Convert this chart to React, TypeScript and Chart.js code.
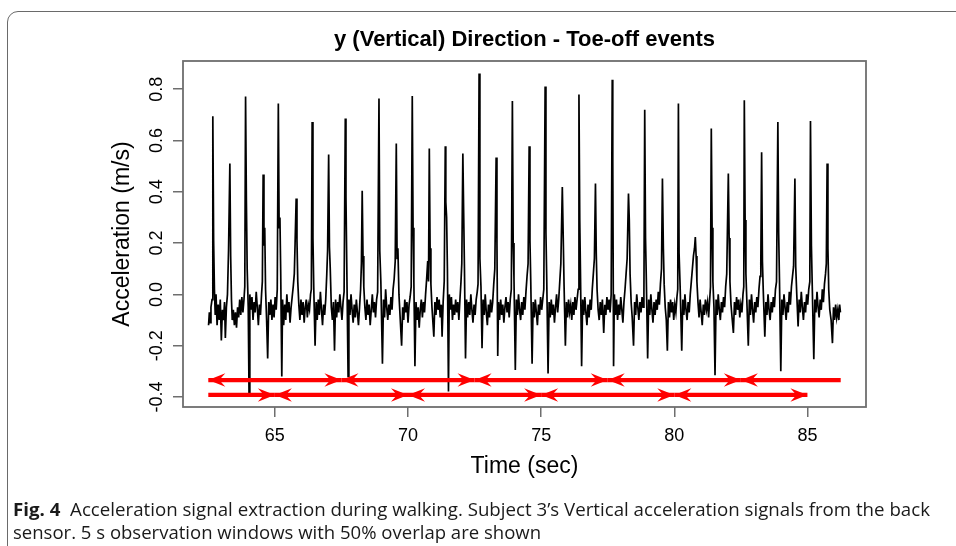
import React, { useEffect, useRef } from "react";
import { Chart, registerables } from "chart.js";

Chart.register(...registerables);

// ---------- text ----------
const TITLE = "y (Vertical) Direction - Toe-off events";
const X_TITLE = "Time (sec)";
const Y_TITLE = "Acceleration (m/s)";

// ---------- axes ----------
const xTickValues = [65, 70, 75, 80, 85];
const yTickValues = [-0.4, -0.2, 0.0, 0.2, 0.4, 0.6, 0.8];
const xLimits = [61.55, 87.2];
const yLimits = [-0.439, 0.91];

// ---------- signal, split by 5 s window ----------
const windowA: [number, number][] = [
  [62.51,-0.12],[62.54,-0.07],[62.57,-0.11],[62.60,-0.05],[62.64,-0.02],
  [62.67,0.695],[62.70,0.21],[62.73,0.02],[62.76,-0.08],[62.79,0.0],[62.83,-0.12],[62.87,-0.04],[62.91,-0.1],[62.95,-0.02],[62.99,-0.18],[63.03,-0.06],[63.07,-0.1],[63.11,-0.03],[63.14,-0.17],[63.18,-0.05],[63.22,0.0],[63.26,0.17],
  [63.31,0.51],[63.34,0.15],[63.37,-0.02],[63.40,-0.1],[63.44,-0.06],[63.48,-0.12],[63.52,-0.07],[63.56,-0.13],[63.60,-0.05],[63.64,-0.09],[63.68,-0.02],[63.72,-0.08],[63.76,-0.01],[63.80,-0.07],[63.84,-0.02],[63.87,0.03],
  [63.90,0.772],[63.93,0.37],[63.96,0.1],[64.00,-0.05],[64.03,-0.386],[64.06,0.0],[64.10,-0.06],[64.14,-0.01],[64.18,-0.1],[64.22,-0.03],[64.26,-0.07],[64.30,0.01],[64.34,-0.05],[64.38,-0.12],[64.42,-0.04],[64.46,-0.08],[64.50,0.0],[64.53,0.05],
  [64.56,0.467],[64.59,0.19],[64.62,0.26],[64.65,0.02],[64.69,-0.1],[64.73,-0.25],[64.77,-0.03],[64.81,-0.08],[64.85,-0.02],[64.89,-0.1],[64.93,-0.04],[64.97,-0.09],[65.01,-0.01],[65.05,-0.06],[65.09,0.02],
  [65.13,0.744],[65.16,0.26],[65.19,0.3],[65.22,0.08],[65.26,-0.32],[65.29,-0.02],[65.33,-0.12],[65.37,-0.04],[65.41,-0.1],[65.45,0.0],[65.49,-0.07],[65.53,-0.03],[65.57,-0.11],[65.61,-0.05],[65.65,-0.01],[65.69,0.03],[65.73,0.08],[65.76,0.2],
  [65.80,0.374],[65.83,0.21],[65.86,0.05],[65.90,-0.04],[65.94,-0.1],[65.98,-0.02],[66.02,-0.08],[66.06,-0.03],[66.10,-0.11],[66.14,-0.05],[66.18,-0.02],[66.22,-0.09],[66.26,-0.04],[66.30,-0.06],[66.34,0.0],[66.37,0.02],
  [66.40,0.672],[66.43,0.22],[66.46,0.03],[66.51,-0.2],[66.55,-0.03],[66.59,-0.1],[66.63,-0.02],[66.67,-0.08],[66.71,0.01],[66.75,-0.06],[66.79,-0.12],[66.83,-0.04],[66.87,-0.08],[66.91,-0.02],[66.95,0.08],[66.98,0.17],
  [67.02,0.545],[67.05,0.185],[67.08,0.1],[67.12,-0.05],[67.16,-0.1],[67.20,-0.03],[67.24,-0.22],[67.28,-0.02],[67.32,-0.09],[67.36,-0.03],[67.40,-0.07],[67.44,0.0],[67.48,-0.05],[67.52,-0.1],[67.56,-0.03],[67.60,0.01],
];
const windowB: [number, number][] = [
  [67.645,0.686],[67.67,0.38],[67.70,0.12],[67.75,-0.32],[67.78,-0.02],[67.82,-0.08],[67.86,0.0],[67.90,-0.06],[67.94,-0.11],[67.98,-0.04],[68.02,-0.09],[68.06,-0.02],[68.10,-0.07],[68.14,-0.12],[68.18,-0.05],[68.22,0.02],[68.25,0.12],
  [68.28,0.404],[68.31,0.15],[68.34,0.03],[68.38,-0.05],[68.42,-0.1],[68.46,-0.02],[68.50,-0.08],[68.54,-0.04],[68.58,-0.12],[68.62,-0.06],[68.66,0.0],[68.70,-0.07],[68.74,-0.03],[68.78,-0.09],[68.82,-0.02],[68.86,0.01],
  [68.91,0.764],[68.94,0.17],[68.98,0.05],[69.04,-0.27],[69.08,-0.02],[69.12,-0.09],[69.16,0.02],[69.20,-0.05],[69.24,-0.1],[69.28,-0.04],[69.32,-0.08],[69.36,-0.01],[69.40,-0.06],[69.44,0.02],[69.48,0.06],[69.52,0.13],
  [69.56,0.588],[69.59,0.14],[69.62,0.18],[69.66,0.0],[69.70,-0.08],[69.76,-0.2],[69.80,-0.05],[69.84,-0.1],[69.88,-0.02],[69.92,-0.07],[69.96,-0.03],[70.00,-0.11],[70.04,-0.04],[70.08,-0.01],[70.12,0.03],
  [70.16,0.774],[70.19,0.26],[70.22,0.05],[70.26,-0.28],[70.30,-0.03],[70.34,-0.1],[70.38,-0.05],[70.42,-0.13],[70.46,-0.06],[70.50,-0.02],[70.54,-0.09],[70.58,-0.03],[70.62,-0.07],[70.66,0.0],[70.70,0.06],[70.74,0.13],[70.77,0.05],
  [70.80,0.569],[70.83,0.18],[70.86,0.04],[70.90,-0.05],[70.93,-0.1],[70.97,-0.165],[71.01,-0.03],[71.05,-0.08],[71.09,-0.01],[71.13,-0.06],[71.17,-0.02],[71.21,-0.09],[71.25,-0.04],[71.28,-0.165],[71.32,-0.03],[71.36,0.05],
  [71.40,0.578],[71.42,0.36],[71.45,0.3],[71.48,0.1],[71.52,-0.379],[71.55,0.0],[71.59,-0.06],[71.63,-0.01],[71.67,-0.1],[71.71,-0.04],[71.75,-0.08],[71.79,-0.02],[71.83,-0.07],[71.87,-0.03],[71.91,-0.1],[71.95,-0.02],[71.99,0.05],[72.02,0.12],
  [72.06,0.549],[72.09,0.32],[72.12,0.1],[72.16,-0.25],[72.20,-0.02],[72.24,-0.09],[72.28,-0.03],[72.32,-0.08],[72.36,0.0],[72.40,-0.06],[72.44,-0.11],[72.48,-0.04],[72.52,-0.08],[72.56,-0.02],[72.60,0.01],[72.63,0.04],
];
const windowC: [number, number][] = [
  [72.67,0.861],[72.70,0.14],[72.74,0.03],[72.78,-0.21],[72.82,-0.02],[72.86,-0.08],[72.90,0.0],[72.94,-0.07],[72.98,-0.12],[73.02,-0.04],[73.06,-0.09],[73.10,-0.02],[73.14,-0.07],[73.18,-0.03],[73.22,0.04],[73.26,0.1],
  [73.31,0.534],[73.34,0.2],[73.37,-0.24],[73.40,-0.03],[73.44,-0.1],[73.48,-0.02],[73.52,-0.08],[73.56,-0.04],[73.60,-0.11],[73.64,-0.05],[73.68,-0.01],[73.72,-0.07],[73.76,-0.03],[73.80,-0.09],[73.84,-0.02],[73.88,0.02],
  [73.92,0.754],[73.95,0.2],[73.98,0.06],[74.03,-0.295],[74.07,-0.02],[74.11,-0.08],[74.15,0.0],[74.19,-0.06],[74.23,-0.1],[74.27,-0.03],[74.31,-0.08],[74.35,-0.01],[74.39,-0.06],[74.43,0.01],[74.47,0.07],[74.51,0.12],
  [74.55,0.578],[74.58,0.21],[74.61,0.05],[74.66,-0.27],[74.70,-0.03],[74.74,-0.09],[74.78,-0.02],[74.82,-0.07],[74.86,-0.12],[74.90,-0.04],[74.94,-0.08],[74.98,-0.01],[75.02,-0.06],[75.06,-0.02],[75.10,0.02],
  [75.15,0.811],[75.18,0.24],[75.21,0.06],[75.26,-0.308],[75.30,-0.03],[75.34,-0.09],[75.38,-0.02],[75.42,-0.08],[75.46,-0.04],[75.50,-0.11],[75.54,-0.05],[75.58,0.0],[75.62,-0.07],[75.66,-0.02],[75.70,0.05],[75.74,0.12],
  [75.795,0.419],[75.83,0.22],[75.86,0.04],[75.91,-0.2],[75.95,-0.03],[75.99,-0.09],[76.03,-0.02],[76.07,-0.07],[76.11,-0.04],[76.15,-0.1],[76.19,-0.03],[76.23,-0.08],[76.27,-0.01],[76.31,-0.06],[76.35,-0.02],[76.39,0.02],
  [76.42,0.779],[76.45,0.29],[76.48,0.06],[76.52,-0.28],[76.56,-0.02],[76.60,-0.08],[76.64,-0.01],[76.68,-0.07],[76.72,-0.12],[76.76,-0.04],[76.80,-0.09],[76.84,-0.02],[76.88,-0.06],[76.92,0.02],[76.96,0.08],[77.00,0.14],
  [77.04,0.432],[77.07,0.16],[77.10,0.02],[77.14,-0.06],[77.18,-0.1],[77.22,-0.03],[77.26,-0.08],[77.30,-0.02],[77.35,-0.15],[77.39,-0.04],[77.43,-0.08],[77.47,-0.01],[77.51,-0.06],[77.55,-0.02],[77.59,-0.07],[77.63,0.0],
];
const windowD: [number, number][] = [
  [77.67,0.837],[77.69,0.52],[77.72,-0.28],[77.75,0.0],[77.79,-0.08],[77.83,-0.02],[77.87,-0.1],[77.91,-0.04],[77.95,-0.08],[77.99,-0.01],[78.03,-0.06],[78.07,-0.11],[78.11,-0.03],[78.15,0.02],[78.19,0.08],[78.23,0.14],
  [78.28,0.393],[78.31,0.29],[78.34,0.08],[78.38,-0.03],[78.42,-0.09],[78.47,-0.2],[78.51,-0.03],[78.55,-0.08],[78.59,0.0],[78.63,-0.05],[78.67,-0.1],[78.71,-0.03],[78.75,-0.07],[78.79,-0.01],[78.83,-0.05],[78.86,0.01],
  [78.89,0.72],[78.92,0.22],[78.95,0.06],[79.00,-0.25],[79.04,-0.02],[79.08,-0.08],[79.12,0.0],[79.16,-0.06],[79.20,-0.11],[79.24,-0.03],[79.28,-0.08],[79.32,-0.02],[79.36,-0.06],[79.40,0.01],[79.44,-0.04],[79.48,0.04],[79.52,0.1],
  [79.555,0.452],[79.59,0.18],[79.62,0.04],[79.66,-0.05],[79.70,-0.1],[79.74,-0.22],[79.78,-0.03],[79.82,-0.09],[79.86,-0.02],[79.90,-0.07],[79.94,-0.03],[79.98,-0.1],[80.02,-0.04],[80.06,-0.07],[80.10,-0.01],[80.13,0.02],
  [80.155,0.744],[80.18,0.16],[80.22,0.03],[80.28,-0.22],[80.32,-0.02],[80.36,-0.08],[80.40,0.0],[80.44,-0.06],[80.48,-0.1],[80.52,-0.03],[80.56,-0.07],[80.60,0.0],[80.64,0.05],[80.68,0.1],[80.72,0.15],[80.76,0.18],
  [80.79,0.224],[80.82,0.15],[80.85,0.05],[80.89,-0.03],[80.93,-0.09],[80.97,-0.02],[81.01,-0.07],[81.05,-0.12],[81.09,-0.04],[81.13,-0.08],[81.17,-0.02],[81.21,-0.06],[81.25,-0.03],[81.29,-0.09],[81.33,-0.02],[81.36,0.03],
  [81.39,0.647],[81.42,0.26],[81.45,0.05],[81.49,-0.05],[81.53,-0.315],[81.57,-0.02],[81.61,-0.08],[81.65,0.0],[81.69,-0.06],[81.73,-0.1],[81.77,-0.03],[81.81,-0.07],[81.85,-0.01],[81.89,-0.05],[81.93,0.03],[81.97,0.08],
  [82.03,0.471],[82.06,0.22],[82.09,0.05],[82.13,-0.04],[82.17,-0.09],[82.22,-0.15],[82.26,-0.03],[82.30,-0.08],[82.34,-0.01],[82.38,-0.06],[82.42,-0.02],[82.46,-0.09],[82.50,-0.04],[82.54,-0.07],[82.58,0.0],[82.61,0.03],
];
const windowE: [number, number][] = [
  [82.63,0.757],[82.66,0.29],[82.69,0.08],[82.73,-0.04],[82.78,-0.2],[82.82,-0.02],[82.86,-0.08],[82.90,0.0],[82.94,-0.06],[82.98,-0.11],[83.02,-0.03],[83.06,-0.07],[83.10,-0.01],[83.14,-0.05],[83.18,0.02],[83.22,0.07],[83.25,0.12],
  [83.28,0.554],[83.31,0.13],[83.34,0.02],[83.40,-0.165],[83.44,-0.03],[83.48,-0.08],[83.52,0.0],[83.56,-0.06],[83.60,-0.1],[83.64,-0.03],[83.68,-0.07],[83.72,-0.01],[83.76,-0.05],[83.80,0.02],[83.84,0.05],
  [83.89,0.672],[83.92,0.24],[83.95,0.06],[84.00,-0.3],[84.04,-0.02],[84.08,-0.08],[84.12,0.0],[84.16,-0.05],[84.20,-0.1],[84.24,-0.03],[84.28,-0.07],[84.32,0.01],[84.36,-0.04],[84.40,0.03],[84.44,0.07],[84.48,0.11],
  [84.53,0.452],[84.56,0.11],[84.60,0.0],[84.65,-0.125],[84.69,-0.02],[84.73,-0.07],[84.77,0.01],[84.81,-0.05],[84.85,-0.1],[84.89,-0.03],[84.93,-0.07],[84.97,0.0],[85.01,-0.04],[85.05,0.02],[85.09,0.05],
  [85.115,0.676],[85.15,0.19],[85.18,0.04],[85.24,-0.253],[85.28,-0.02],[85.32,-0.07],[85.36,0.01],[85.40,-0.05],[85.44,-0.09],[85.48,-0.02],[85.52,-0.06],[85.56,0.02],[85.60,-0.03],[85.64,0.04],[85.68,0.08],[85.71,0.12],
  [85.74,0.51],[85.77,0.18],[85.80,0.02],[85.84,-0.06],[85.89,-0.1],[85.94,-0.19],[85.98,-0.05],[86.02,-0.1],[86.06,-0.04],[86.10,-0.09],[86.14,-0.06],[86.18,-0.1],[86.21,-0.04],[86.24,-0.07],
];

// ---------- observation windows (red arrows) ----------
const upperRowLevel = -0.334;
const upperRowStart = [62.5, 67.5, 72.5, 77.5, 82.5];
const upperRowEnd = [67.5, 72.5, 77.5, 82.5, 86.25];
const upperRowHeads = ["both", "both", "both", "both", "start"];
const lowerRowLevel = -0.392;
const lowerRowStart = [62.5, 65, 70, 75, 80];
const lowerRowEnd = [65, 70, 75, 80, 85];
const lowerRowHeads = ["end", "both", "both", "both", "both"];

const FONT = "'Liberation Sans', Arial, Helvetica, sans-serif";
const AXIS_GREY = "#6e6e6e";
const RED = "#ff0000";

function drawHead(ctx: CanvasRenderingContext2D, x: number, y: number, dir: number) {
  const L = 17;
  const H = 6.8;
  const N = 11;
  ctx.beginPath();
  ctx.moveTo(x, y);
  ctx.lineTo(x - dir * L, y - H);
  ctx.lineTo(x - dir * N, y);
  ctx.lineTo(x - dir * L, y + H);
  ctx.closePath();
  ctx.fill();
}

const arrowHeadPlugin = {
  id: "arrowHeads",
  afterDatasetsDraw(chart: any) {
    const ctx = chart.ctx as CanvasRenderingContext2D;
    chart.data.datasets.forEach((ds: any, i: number) => {
      if (!ds.heads) return;
      const pts = chart.getDatasetMeta(i).data;
      if (pts.length < 2) return;
      const a = pts[0];
      const b = pts[pts.length - 1];
      ctx.save();
      ctx.fillStyle = ds.borderColor;
      if (ds.heads === "both" || ds.heads === "start") drawHead(ctx, a.x, a.y, -1);
      if (ds.heads === "both" || ds.heads === "end") drawHead(ctx, b.x, b.y, 1);
      ctx.restore();
    });
  },
};

const boxPlugin = {
  id: "plotBox",
  afterDraw(chart: any) {
    const { ctx, chartArea: a } = chart;
    ctx.save();
    ctx.strokeStyle = AXIS_GREY;
    ctx.lineWidth = 1.8;
    ctx.strokeRect(a.left, a.top, a.right - a.left, a.bottom - a.top);
    ctx.restore();
  },
};

function makeArrowSets(starts: number[], ends: number[], heads: string[], level: number) {
  return starts.map((s, i) => ({
    type: "line",
    label: `window ${s}-${ends[i]}`,
    data: [
      { x: s, y: level },
      { x: ends[i], y: level },
    ],
    borderColor: RED,
    borderWidth: 4.2,
    borderCapStyle: "butt",
    pointRadius: 0,
    order: 0,
    heads: heads[i],
  }));
}

function CaptionLine({ target, children, top }: { target: number; children: React.ReactNode; top: number }) {
  const ref = useRef<HTMLSpanElement>(null);
  useEffect(() => {
    const el = ref.current;
    if (!el) return;
    el.style.transform = "none";
    const w = el.getBoundingClientRect().width;
    if (w > 0) el.style.transform = `scaleX(${target / w})`;
  }, [target]);
  return (
    <span
      ref={ref}
      style={{
        position: "absolute",
        left: 13,
        top,
        display: "inline-block",
        whiteSpace: "pre",
        transformOrigin: "0 0",
        fontFamily: "'Open Sans', 'Noto Sans', sans-serif",
        fontSize: 18.5,
        lineHeight: "22px",
        color: "#1a1a1a",
      }}
    >
      {children}
    </span>
  );
}

export default function App() {
  const canvasRef = useRef<HTMLCanvasElement>(null);

  useEffect(() => {
    const canvas = canvasRef.current;
    if (!canvas) return;
    const signal = [...windowA, ...windowB, ...windowC, ...windowD, ...windowE].map(([x, y]) => ({ x, y }));
    const chart = new Chart(canvas, {
      type: "line",
      data: {
        datasets: [
          ...makeArrowSets(upperRowStart, upperRowEnd, upperRowHeads, upperRowLevel),
          ...makeArrowSets(lowerRowStart, lowerRowEnd, lowerRowHeads, lowerRowLevel),
          {
            type: "line",
            label: "Vertical acceleration",
            data: signal,
            borderColor: "#000000",
            borderWidth: 1.7,
            pointRadius: 0,
            tension: 0,
            order: 1,
          },
        ] as any,
      },
      options: {
        responsive: false,
        animation: false,
        events: [],
        layout: { padding: { top: 0, left: 0, right: 90, bottom: 64 } },
        plugins: {
          legend: { display: false },
          tooltip: { enabled: false },
          title: {
            display: true,
            text: TITLE,
            fullSize: false,
            color: "#000",
            font: { family: FONT, size: 22, weight: "bold", lineHeight: 1.2 },
            padding: { top: 26.8, bottom: 7.8 },
          },
        },
        scales: {
          x: {
            type: "linear",
            min: xLimits[0],
            max: xLimits[1],
            afterBuildTicks: (scale: any) => {
              scale.ticks = xTickValues.map((v) => ({ value: v }));
            },
            afterFit: (scale: any) => {
              scale.height = 75;
            },
            border: { display: false },
            grid: {
              drawOnChartArea: false,
              drawTicks: true,
              tickLength: 10,
              color: AXIS_GREY,
              lineWidth: 1.5,
            },
            ticks: {
              autoSkip: false,
              maxRotation: 0,
              minRotation: 0,
              padding: 8,
              color: "#000",
              font: { family: FONT, size: 18 },
              callback: (v: any) => String(v),
            },
            title: {
              display: true,
              text: X_TITLE,
              color: "#000",
              font: { family: FONT, size: 23, lineHeight: 1.2 },
              padding: { top: 0, bottom: 2 },
            },
          },
          y: {
            type: "linear",
            min: yLimits[0],
            max: yLimits[1],
            afterBuildTicks: (scale: any) => {
              scale.ticks = yTickValues.map((v) => ({ value: v }));
            },
            afterFit: (scale: any) => {
              scale.width = 183;
            },
            border: { display: false },
            grid: {
              drawOnChartArea: false,
              drawTicks: true,
              tickLength: 10,
              color: AXIS_GREY,
              lineWidth: 1.5,
            },
            ticks: {
              autoSkip: false,
              minRotation: 90,
              maxRotation: 90,
              crossAlign: "center",
              padding: 0,
              color: "#000",
              font: { family: FONT, size: 18 },
              callback: (v: any) => Number(v).toFixed(1),
            },
            title: {
              display: true,
              text: Y_TITLE,
              color: "#000",
              font: { family: FONT, size: 23, lineHeight: 1.2 },
              padding: { top: 109, bottom: 0 },
            },
          },
        },
      } as any,
      plugins: [arrowHeadPlugin, boxPlugin],
    });
    return () => chart.destroy();
  }, []);

  return (
    <div
      style={{
        position: "fixed",
        left: 0,
        top: 0,
        width: 956,
        height: 546,
        overflow: "hidden",
        background: "#ffffff",
      }}
    >
      <div
        style={{
          position: "absolute",
          left: 7,
          top: 11,
          width: 1000,
          height: 600,
          border: "1.5px solid #6a6a6a",
          borderTopLeftRadius: 11,
          boxSizing: "border-box",
        }}
      />
      <canvas
        ref={canvasRef}
        width={956}
        height={546}
        style={{ position: "absolute", left: 0, top: 0, width: 956, height: 546, display: "block" }}
      />
      <CaptionLine target={917} top={498}>
        <b>Fig. 4</b>
        {"  Acceleration signal extraction during walking. Subject 3\u2019s Vertical acceleration signals from the back"}
      </CaptionLine>
      <CaptionLine target={528} top={521}>
        {"sensor. 5 s observation windows with 50% overlap are shown"}
      </CaptionLine>
    </div>
  );
}
